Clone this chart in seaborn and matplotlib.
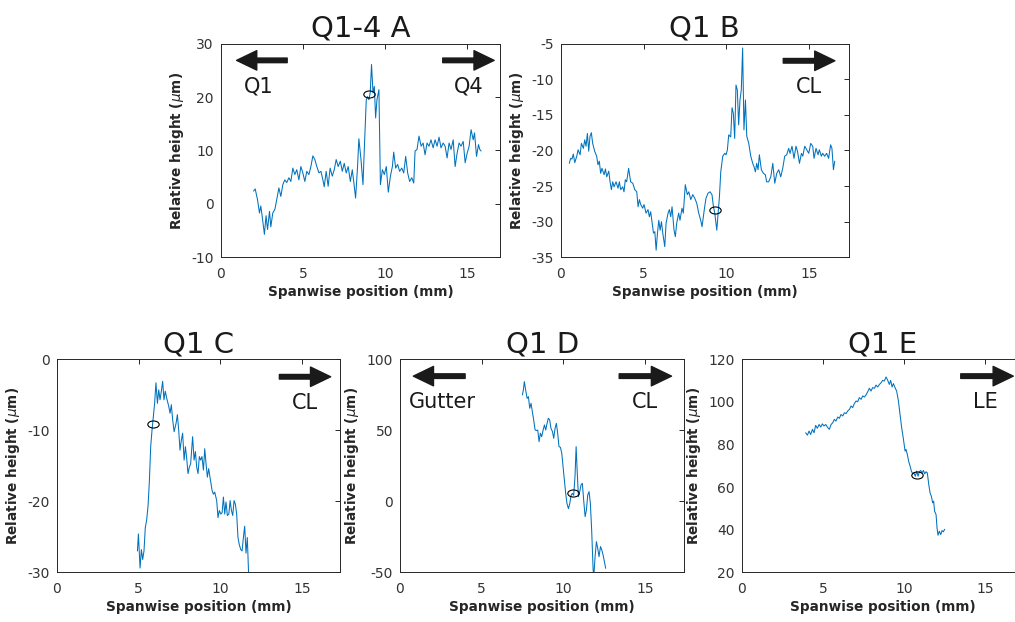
import numpy as np
import matplotlib
matplotlib.use("Agg")
import matplotlib.pyplot as plt
import seaborn as sns
from matplotlib.path import Path

# ---------------- data ----------------
a_x = [2.0, 2.1, 2.24, 2.36, 2.44, 2.52, 2.66, 2.76, 2.85, 2.97, 3.05, 3.17, 3.3, 3.41, 3.54, 3.66,
       3.78, 3.9, 4.02, 4.15, 4.27, 4.39, 4.51, 4.63, 4.76, 4.88, 5.0, 5.12, 5.24, 5.37, 5.49, 5.61,
       5.73, 5.85, 5.98, 6.1, 6.22, 6.3, 6.42, 6.54, 6.66, 6.79, 6.91, 7.03, 7.15, 7.28, 7.4, 7.52,
       7.64, 7.76, 7.89, 8.01, 8.13, 8.21, 8.33, 8.41, 8.54, 8.66, 8.74, 8.86, 8.94, 9.02, 9.1, 9.18,
       9.27, 9.35, 9.43, 9.51, 9.63, 9.72, 9.84, 9.96, 10.08, 10.2, 10.33, 10.45, 10.53, 10.65, 10.77,
       10.89, 11.02, 11.14, 11.26, 11.38, 11.5, 11.63, 11.75, 11.83, 11.95, 12.07, 12.2, 12.32, 12.44,
       12.56, 12.68, 12.8, 12.93, 13.05, 13.17, 13.29, 13.41, 13.54, 13.66, 13.78, 13.9, 14.02, 14.15,
       14.27, 14.39, 14.51, 14.63, 14.76, 14.88, 15.0, 15.12, 15.24, 15.37, 15.45, 15.57, 15.69, 15.77,
       15.85]
a_y = [2.4, 2.8, 0.8, -1.7, -0.4, -2.2, -5.7, -2.2, -4.8, -1.4, -4.3, -1.7, -1.0, 0.8, 3.0, 1.4,
       3.6, 4.5, 4.0, 4.9, 4.2, 6.7, 5.5, 6.4, 4.5, 7.0, 5.8, 4.2, 6.1, 5.5, 7.0, 9.0,
       8.3, 7.0, 5.8, 6.1, 4.5, 3.2, 6.1, 3.3, 6.7, 5.2, 6.4, 8.3, 7.0, 8.0, 6.1, 7.6,
       5.8, 7.0, 4.2, 6.4, 3.3, 1.1, 7.0, 12.2, 8.3, 3.6, 10.2, 19.5, 20.1, 19.5, 20.8, 26.1,
       20.8, 22.0, 16.1, 19.5, 21.4, 3.6, 6.4, 5.5, 7.0, 2.2, 5.2, 7.0, 9.7, 6.7, 7.4,
       6.1, 6.7, 5.8, 8.9, 5.8, 4.2, 4.9, 3.9, 9.9, 10.2, 12.7, 10.8, 11.4, 9.2,
       11.4, 10.8, 12.0, 10.5, 12.0, 10.8, 12.5, 10.5, 11.4, 10.8, 8.6, 11.4, 10.2, 12.0,
       7.0, 9.5, 11.4, 10.8, 11.7, 7.7, 9.5, 10.8, 13.9, 12.0, 13.3, 8.9, 11.1, 10.2,
       9.9]

b_x = [0.52, 0.6, 0.68, 0.76, 0.85, 0.97, 1.05, 1.17, 1.25, 1.37, 1.45, 1.53, 1.61, 1.69, 1.77, 1.85,
       1.93, 2.05, 2.17, 2.25, 2.33, 2.41, 2.49, 2.62, 2.7, 2.78, 2.9, 2.98, 3.06, 3.14, 3.22, 3.34,
       3.46, 3.54, 3.62, 3.74, 3.82, 3.9, 3.98, 4.1, 4.22, 4.35, 4.47, 4.59, 4.67, 4.75, 4.83, 4.95,
       5.03, 5.15, 5.27, 5.35, 5.43, 5.51, 5.6, 5.68, 5.76, 5.84, 5.92, 6.0, 6.08, 6.16, 6.28, 6.36,
       6.48, 6.56, 6.64, 6.72, 6.84, 6.92, 7.0, 7.12, 7.2, 7.32, 7.4, 7.52, 7.64, 7.73, 7.85, 7.97,
       8.09, 8.21, 8.33, 8.45, 8.53, 8.61, 8.69, 8.77, 8.89, 9.01, 9.13, 9.22, 9.3, 9.42, 9.5, 9.58,
       9.66, 9.78, 9.9, 9.98, 10.06, 10.14, 10.26, 10.34, 10.42, 10.5, 10.58, 10.66, 10.74, 10.82,
       10.9, 10.98, 11.06, 11.15, 11.23, 11.35, 11.47, 11.59, 11.67, 11.75, 11.83, 11.91, 11.99,
       12.11, 12.23, 12.35, 12.43, 12.55, 12.68, 12.8, 12.92, 13.04, 13.16, 13.28, 13.4, 13.52,
       13.64, 13.76, 13.84, 13.96, 14.08, 14.2, 14.29, 14.41, 14.53, 14.61, 14.73, 14.85, 14.97,
       15.09, 15.21, 15.29, 15.41, 15.53, 15.61, 15.73, 15.81, 15.93, 16.05, 16.17, 16.29, 16.37,
       16.46, 16.54]
b_y = [-21.8, -21.1, -21.2, -20.5, -21.7, -20.8, -19.9, -20.6, -19.0, -19.7, -18.5, -19.4, -17.6, -20.1, -18.0, -17.5,
       -19.0, -20.1, -20.8, -22.0, -21.5, -23.2, -22.5, -23.4, -22.6, -23.7, -22.9, -24.4, -25.5, -24.4, -25.1, -24.4,
       -25.3, -24.4, -25.5, -25.1, -25.8, -24.1, -24.4, -22.5, -24.4, -24.6, -25.5, -25.8, -27.9, -26.9, -27.6, -28.1,
       -27.6, -28.8, -28.3, -29.3, -28.6, -30.0, -31.6, -31.4, -34.0, -31.6, -29.8, -31.2, -30.0, -31.6, -33.5, -30.2,
       -28.8, -28.3, -29.3, -27.9, -31.2, -32.1, -30.2, -28.8, -29.8, -28.1, -28.8, -24.8, -26.2, -25.8, -26.9, -26.2,
       -26.7, -27.4, -28.8, -29.8, -30.7, -29.3, -27.9, -26.7, -26.0, -25.8, -26.2, -27.9, -28.8, -31.2, -28.8, -26.5,
       -23.0, -20.8, -20.4, -20.6, -19.9, -17.8, -18.1, -14.0, -14.8, -18.3, -10.8, -11.5, -16.4, -12.9,
       -11.5, -5.6, -17.1, -12.9, -18.0, -19.0, -20.8, -21.8, -22.3, -23.0, -21.8, -22.7, -20.6,
       -22.7, -23.2, -23.4, -24.4, -24.4, -23.7, -21.8, -24.6, -23.2, -22.7, -23.7, -22.5, -20.8,
       -20.6, -19.7, -20.4, -19.4, -21.1, -19.4, -20.1, -21.8, -20.4, -20.8, -19.4, -19.9, -20.4,
       -19.0, -19.4, -21.1, -19.7, -20.6, -19.9, -20.8, -20.4, -20.8, -20.4, -21.1, -19.2, -19.7,
       -22.7, -21.5]

c_x = [4.93, 4.99, 5.09, 5.17, 5.25, 5.33, 5.41, 5.49, 5.58, 5.66, 5.74, 5.82, 5.9, 5.98, 6.06, 6.15,
       6.23, 6.31, 6.39, 6.47, 6.55, 6.63, 6.72, 6.84, 6.92, 7.0, 7.08, 7.17, 7.29, 7.37, 7.45, 7.53,
       7.61, 7.69, 7.78, 7.86, 7.94, 8.02, 8.1, 8.18, 8.3, 8.39, 8.47, 8.55, 8.63, 8.71, 8.79, 8.87,
       8.96, 9.04, 9.12, 9.2, 9.28, 9.36, 9.49, 9.57, 9.65, 9.77, 9.85, 9.93, 10.02, 10.1, 10.18,
       10.26, 10.34, 10.42, 10.51, 10.59, 10.67, 10.75, 10.83, 10.91, 10.99, 11.07, 11.15, 11.24,
       11.32, 11.4, 11.48, 11.56, 11.64, 11.72, 11.76]
c_y = [-27.0, -24.6, -29.4, -26.8, -28.2, -27.0, -23.7, -22.7, -20.6, -17.1, -12.3, -10.0, -8.1, -6.2, -3.3, -6.2,
       -4.3, -5.7, -4.5, -3.1, -5.7, -4.5, -5.5, -6.6, -7.6, -6.4, -8.5, -10.2, -9.0, -7.8, -10.0, -12.8,
       -11.4, -10.4, -14.2, -12.3, -14.0, -16.1, -15.2, -14.7, -10.9, -14.2, -13.0, -15.2, -16.1, -13.7, -14.2, -13.7,
       -15.6, -12.6, -14.7, -16.6, -15.4, -16.6, -18.5, -19.0, -18.7, -19.9, -22.3, -21.3, -21.8, -21.6, -19.4,
       -21.8, -20.1, -22.0, -21.8, -19.9, -21.3, -22.0, -19.9, -20.4, -21.8, -25.1, -26.1, -26.8,
       -27.0, -25.1, -23.5, -27.3, -25.1, -30.3, -31.5]

d_x = [7.49, 7.55, 7.61, 7.69, 7.78, 7.86, 7.94, 8.02, 8.1, 8.18, 8.27, 8.35, 8.43, 8.51, 8.59, 8.67,
       8.76, 8.84, 8.92, 9.0, 9.08, 9.16, 9.24, 9.33, 9.41, 9.49, 9.57, 9.65, 9.73, 9.82, 9.9, 9.98,
       10.06, 10.14, 10.22, 10.31, 10.39, 10.47, 10.55, 10.63, 10.71, 10.78, 10.84, 10.92, 11.0, 11.08,
       11.16, 11.24, 11.33, 11.41, 11.49, 11.57, 11.65, 11.73, 11.82, 11.86, 11.94, 12.02, 12.1, 12.18,
       12.27, 12.35, 12.43, 12.51, 12.59]
d_y = [74.9, 78.4, 84.3, 78.4, 72.5, 73.7, 65.5, 69.0, 63.1, 57.3, 50.2, 49.8, 50.2, 42.0, 47.9, 45.5,
       50.2, 53.8, 50.2, 54.9, 58.5, 57.3, 51.4, 49.1, 44.4, 51.4, 54.9, 47.9, 38.5, 38.0, 33.8, 24.4,
       15.0, 5.6, -1.6, -5.2, -1.6, 4.2, 5.6, 4.2, 17.4, 38.5, 22.1, 3.3, 6.8, 11.5,
       12.7, 0.9, -10.8, -6.1, 4.5, 6.8, -1.4, -20.2, -48.3, -53.0, -39.0, -28.4, -33.1, -39.0,
       -31.9, -34.3, -37.8, -42.5, -47.2]

e_x = [3.94, 4.05, 4.15, 4.25, 4.36, 4.46, 4.56, 4.66, 4.77, 4.87, 4.97, 5.07, 5.18, 5.28, 5.4, 5.51,
       5.61, 5.71, 5.81, 5.92, 6.02, 6.12, 6.23, 6.33, 6.43, 6.53, 6.64, 6.74, 6.84, 6.94, 7.05, 7.15,
       7.25, 7.36, 7.46, 7.56, 7.66, 7.77, 7.87, 7.97, 8.07, 8.18, 8.28, 8.38, 8.49, 8.59, 8.69, 8.79,
       8.9, 9.0, 9.1, 9.18, 9.27, 9.35, 9.45, 9.55, 9.66, 9.76, 9.86, 9.97, 10.07, 10.13, 10.21, 10.29,
       10.38, 10.46, 10.54, 10.62, 10.7, 10.79, 10.87, 10.95, 11.03, 11.12, 11.2, 11.28, 11.36, 11.44,
       11.53, 11.61, 11.69, 11.77, 11.83, 11.89, 11.98, 12.04, 12.1, 12.18, 12.27, 12.35, 12.43, 12.51]
e_y = [85.5, 84.4, 86.3, 84.7, 87.1, 85.5, 89.0, 87.6, 89.4, 88.2, 89.7, 88.7, 89.4, 88.2, 87.1, 89.4,
       90.2, 91.8, 91.0, 92.9, 92.3, 94.1, 93.4, 94.9, 94.5, 95.7, 96.5, 98.1, 97.3, 99.2, 100.4, 100.1,
       102.0, 101.2, 102.8, 102.3, 103.2, 104.8, 106.4, 105.1, 106.7, 106.4, 107.9, 107.0, 108.2, 109.0, 110.1, 109.8,
       111.7, 110.1, 108.2, 110.1, 107.0, 108.6, 106.7, 105.1, 100.4, 94.1, 87.9, 82.4, 76.9, 77.7, 75.3, 72.2,
       69.8, 67.5, 66.2, 66.7, 65.1, 67.5, 65.1, 67.2, 67.8, 66.7, 67.8, 66.2, 67.2, 66.7,
       61.2, 57.3, 55.7, 52.6, 53.4, 48.7, 47.1, 40.8, 37.4, 39.3, 37.7, 39.6, 39.0, 40.2]

titles = ["Q1-4 A", "Q1 B", "Q1 C", "Q1 D", "Q1 E"]
circle_x = [9.05, 9.32, 5.86, 10.61, 10.79]
circle_y = [20.6, -28.3, -9.1, 5.6, 65.9]
ylims = [(-10, 30), (-35, -5), (-30, 0), (-50, 100), (20, 120)]
yticks = [[-10, 0, 10, 20, 30], [-35, -30, -25, -20, -15, -10, -5], [-30, -20, -10, 0],
          [-50, 0, 50, 100], [20, 40, 60, 80, 100, 120]]
xlims = [(0, 17.0), (0, 17.4), (0, 17.3), (0, 17.4), (0, 17.4)]
xticks = [0, 5, 10, 15]
xlabel_text = "Spanwise position (mm)"
ylabel_text = "Relative height ($\\mu$m)"

# direction annotations: (tail_x, head_x, arrow_y, label, label_x, label_y) in axes fraction
annotations = [
    [(0.238, 0.057, 0.922, "Q1", 0.135, 0.80), (0.795, 0.979, 0.922, "Q4", 0.889, 0.80)],
    [(0.772, 0.951, 0.920, "CL", 0.861, 0.797)],
    [(0.786, 0.967, 0.918, "CL", 0.876, 0.793)],
    [(0.229, 0.047, 0.921, "Gutter", 0.150, 0.801), (0.771, 0.955, 0.921, "CL", 0.862, 0.801)],
    [(0.776, 0.962, 0.921, "LE", 0.862, 0.800)],
]

# axes rectangles in pixels: left, top, right, bottom
rects_px = [(220.7, 43.7, 500.0, 257.3), (560.7, 43.7, 849.0, 257.3),
            (56.7, 359.3, 340.0, 572.3), (400.0, 359.3, 684.3, 572.3),
            (741.7, 359.3, 1024.0, 572.3)]

# ---------------- style ----------------
sns.set_theme(style="white")
plt.rcParams["font.family"] = ["DejaVu Sans"]
plt.rcParams["axes.unicode_minus"] = False
plt.rcParams["mathtext.default"] = "it"

W, H = 1015, 622
fig = plt.figure(figsize=(W / 100, H / 100), dpi=100)
fig.patch.set_facecolor("white")

ell = Path.unit_circle()
ell = Path(ell.vertices * np.array([1.0, 0.62]), ell.codes)

line_color = "#0072BD"
dark = "#262626"
tick_grey = "#333333"

series = [(a_x, a_y), (b_x, b_y), (c_x, c_y), (d_x, d_y), (e_x, e_y)]

for i, ((xs, ys), (l, t, r, b)) in enumerate(zip(series, rects_px)):
    ax = fig.add_axes([l / W, 1 - b / H, (r - l) / W, (b - t) / H])
    sns.lineplot(x=xs, y=ys, ax=ax, color=line_color, linewidth=0.75,
                 estimator=None, sort=False)
    ax.plot([circle_x[i]], [circle_y[i]], linestyle="none", marker=ell,
            markersize=8.2, markerfacecolor="none", markeredgecolor="black",
            markeredgewidth=0.8)
    ax.set_xlim(*xlims[i])
    ax.set_ylim(*ylims[i])
    ax.set_xticks(xticks)
    ax.set_yticks(yticks[i])
    ax.set_yticklabels([str(v) for v in yticks[i]])
    for s in ax.spines.values():
        s.set_visible(True)
        s.set_color(dark)
        s.set_linewidth(0.7)
    ax.tick_params(direction="in", length=3.5, width=0.7, color=dark,
                   labelcolor=tick_grey, top=True, right=True, labelsize=10, pad=5)
    ax.tick_params(axis="x", pad=7)
    ax.set_xlabel(xlabel_text, fontsize=9.8, fontweight="bold", color=dark, labelpad=3)
    ax.set_ylabel(ylabel_text, fontsize=9.8, fontweight="bold", color=dark, labelpad=4)
    ax.set_title(titles[i], fontsize=21, color="#1a1a1a", pad=5)
    for (tx, hx, ay, lab, lx, ly) in annotations[i]:
        ax.annotate("", xy=(hx, ay), xytext=(tx, ay), xycoords="axes fraction",
                    textcoords="axes fraction",
                    arrowprops=dict(arrowstyle="simple,head_length=1.45,head_width=1.4,tail_width=0.33",
                                    color="#1a1a1a", shrinkA=0, shrinkB=0, mutation_scale=10))
        ax.text(lx, ly, lab, transform=ax.transAxes, ha="center", va="center",
                fontsize=15, color="#1a1a1a")

fig.savefig("out.png", dpi=100)
